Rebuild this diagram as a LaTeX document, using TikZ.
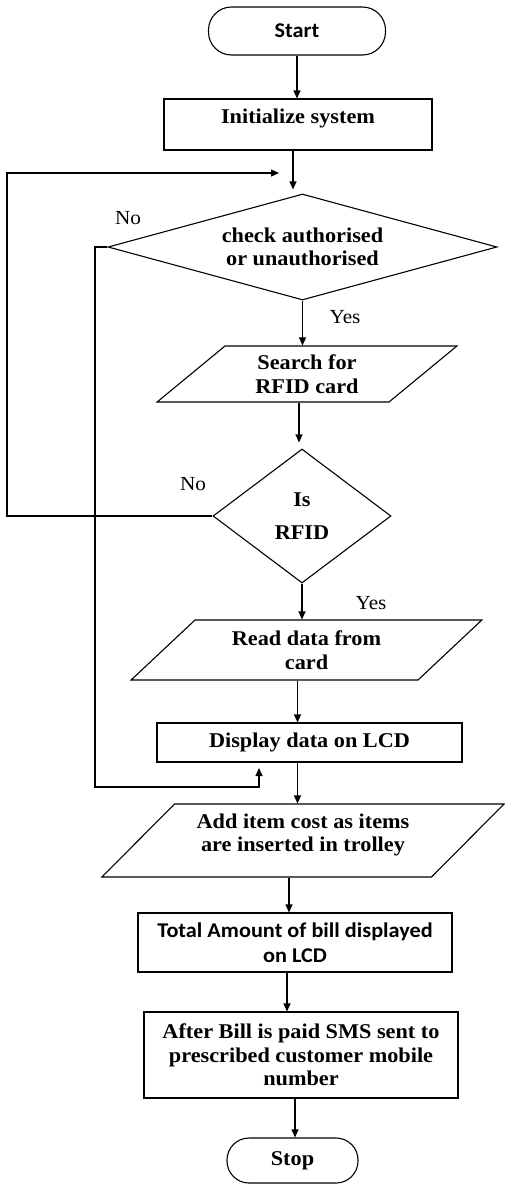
\documentclass[tikz,border=0pt]{standalone}
\usepackage{fontspec}
\setmainfont{Liberation Serif}[FakeStretch=1.06]
\newfontfamily\calibfont{Carlito}[FakeStretch=1.06]
\usetikzlibrary{arrows.meta, positioning, shapes.geometric}

\newcommand{\dropline}{\rule[-16pt]{0pt}{0pt}}

\tikzset{
  base/.style={draw, line width=1.1pt, font=\bfseries\fontsize{21}{23.5}\selectfont,
    align=center, inner sep=0pt},
  term/.style={base, rounded corners=23pt, minimum width=177pt, minimum height=48pt},
  proc/.style={base, rectangle},
  io/.style={base, trapezium, trapezium left angle=42, trapezium right angle=138,
    trapezium stretches=true},
  dec/.style={base, diamond},
  arr/.style={line width=1.1pt, -{Triangle[length=8pt,width=7pt]}},
  lbl/.style={font=\fontsize{20}{22}\selectfont, inner sep=0pt},
}

\begin{document}
\begin{tikzpicture}[x=1pt, y=-1pt]
\useasboundingbox (0,0) rectangle (505,1186);

\node[term, font=\calibfont\bfseries\fontsize{21}{23.5}\selectfont] (start) at (297,31) {Start};
\node[proc, minimum width=268pt, minimum height=51pt] (init) at (298,124.5) {Initialize system\dropline};
\node[dec, aspect=3.67, minimum width=389pt, minimum height=106pt] (d1) at (302.5,247) {check authorised\\or unauthorised};
\node[io, minimum width=300pt, minimum height=56pt] (search) at (307,374) {Search for\\RFID card};
\node[dec, aspect=1.33, minimum width=178pt, minimum height=134pt] (d2) at (302,516) {Is\\[10pt]RFID};
\node[io, minimum width=351pt, minimum height=60pt] (read) at (306.5,650) {Read data from\\card};
\node[proc, minimum width=305pt, minimum height=39pt] (disp) at (309.5,742.5) {Display data on LCD};
\node[io, minimum width=404pt, minimum height=73pt] (add) at (303,840.5)
    {Add item cost as items\\are inserted in trolley\dropline};
\node[proc, font=\calibfont\bfseries\fontsize{21}{25}\selectfont,
    minimum width=314pt, minimum height=59pt] (total) at (295,942.5)
    {Total Amount of bill displayed\\on LCD};
\node[proc, minimum width=314pt, minimum height=86pt] (after) at (301,1055)
    {After Bill is paid SMS sent to\\prescribed customer mobile\\number};
\node[term, minimum width=131pt, minimum height=45pt, rounded corners=22pt] (stop) at (292.5,1160.5) {Stop};

% main flow
\draw[arr] (start.south) -- (start.south |- init.north);
\draw[arr] ([xshift=-5pt]init.south) -- ([xshift=-5pt, yshift=4pt]init.south |- d1.north);
\draw[arr] (d1.south) -- (d1.south |- search.north);
\draw[arr] ([xshift=-8pt]search.south) -- ([xshift=-8pt, yshift=6pt]search.south |- d2.north);
\draw[arr] (d2.south) -- (d2.south |- read.north);
\draw[arr] ([xshift=-9pt]read.south) -- ([xshift=-9pt]read.south |- disp.north);
\draw[arr] ([xshift=-12pt]disp.south) -- ([xshift=-12pt]disp.south |- add.north);
\draw[arr] ([xshift=-14pt]add.south) -- ([xshift=-14pt]add.south |- total.north);
\draw[arr] ([xshift=-8pt]total.south) -- ([xshift=-8pt]total.south |- after.north);
\draw[arr] ([xshift=-6pt]after.south) -- ([xshift=-6pt]after.south |- stop.north);

% loops back
\coordinate (lp1) at (7,173);
\coordinate (in1) at (279,173);
\coordinate (lp2) at (95,787);
\coordinate (in2) at (259,768);
\draw[arr] (d2.west) -| (lp1) -- (in1);
\draw[arr] (d1.west) -| (lp2) -| (in2);

\node[lbl] (no1) at (128,218) {No};
\node[lbl] (yes1) at (345,317) {Yes};
\node[lbl] (no2) at (193,484) {No};
\node[lbl] (yes2) at (371,603) {Yes};
\end{tikzpicture}
\end{document}
